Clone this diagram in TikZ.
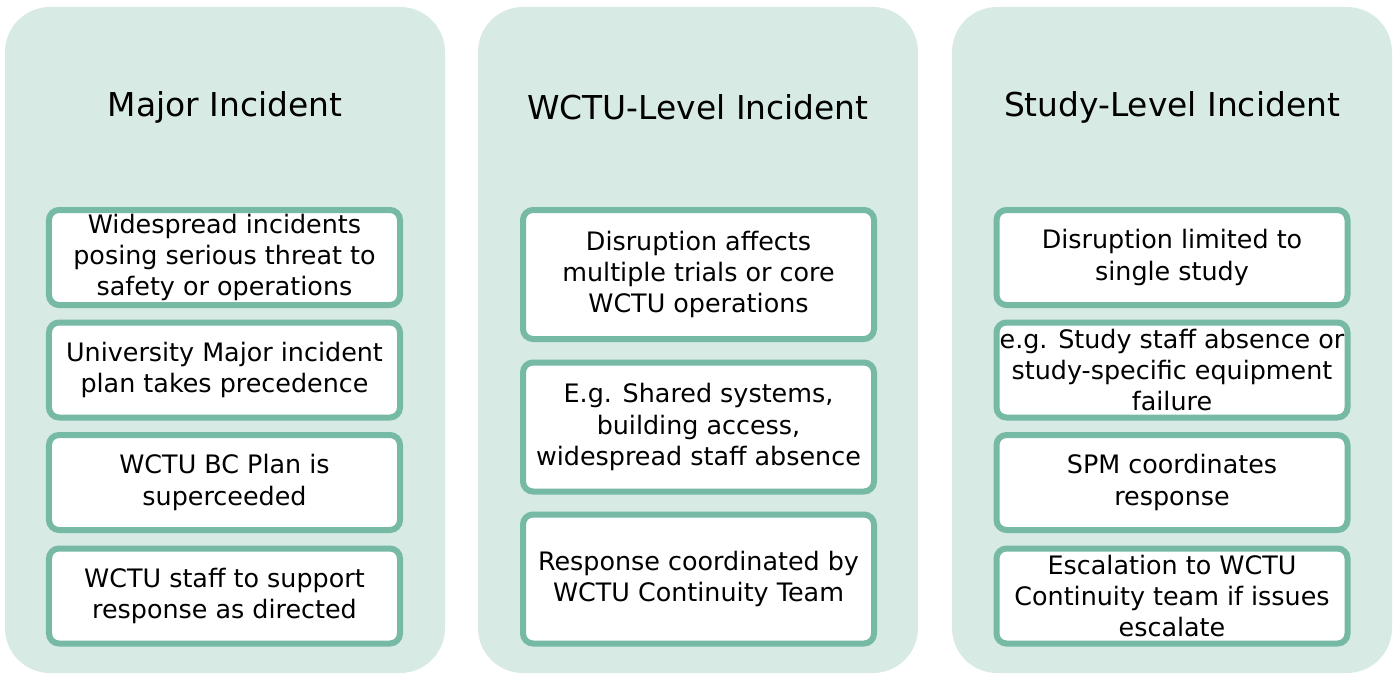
\documentclass[tikz,border=0pt]{standalone}
\usepackage{fontspec}
\setmainfont{DejaVu Sans}
\definecolor{panelbg}{HTML}{D7EAE3}
\definecolor{boxline}{HTML}{76B9A5}
\begin{document}
\begin{tikzpicture}[x=1bp,y=-1bp,
  panel/.style={fill=panelbg,draw=none,rounded corners=45bp},
  title/.style={font=\fontsize{33}{38}\selectfont,anchor=center},
  item/.style={draw=boxline,line width=6bp,fill=white,rounded corners=10bp,
    minimum width=351bp,align=center,inner sep=0pt,
    font=\fontsize{25.5}{31.3}\selectfont},
  short/.style={item,minimum height=95bp},
  tall/.style={item,minimum height=129bp}]
\useasboundingbox (0,0) rectangle (1397,674);
\path[panel] (5,7) rectangle (445,673);
\path[panel] (478,7) rectangle (918,673);
\path[panel] (952,7) rectangle (1392,673);
\node[title] (t1) at (225,107) {Major Incident};
\node[title] (t2) at (698,107) {WCTU-Level Incident};
\node[title] (t3) at (1172,107) {Study-Level Incident};
% left
\node[short] (a1) at (224.5,257.5) {Widespread incidents\\posing serious threat to\\safety or operations};
\node[short] (a2) at (224.5,370) {University Major incident\\plan takes precedence};
\node[short] (a3) at (224.5,482.5) {WCTU BC Plan is\\superceeded};
\node[short] (a4) at (224.5,596) {WCTU staff to support\\response as directed};
% middle
\node[tall] (b1) at (698.5,274.5) {Disruption affects\\multiple trials or core\\WCTU operations};
\node[tall] (b2) at (698.5,427) {E.g. Shared systems,\\building access,\\widespread staff absence};
\node[tall] (b3) at (698.5,579) {Response coordinated by\\WCTU Continuity Team};
% right
\node[short] (c1) at (1172,257.5) {Disruption limited to\\single study};
\node[short] (c2) at (1172,370) {e.g. Study staff absence or\\study-specific equipment\\failure};
\node[short] (c3) at (1172,482.5) {SPM coordinates\\response};
\node[short] (c4) at (1172,596) {Escalation to WCTU\\Continuity team if issues\\escalate};
\end{tikzpicture}
\end{document}
